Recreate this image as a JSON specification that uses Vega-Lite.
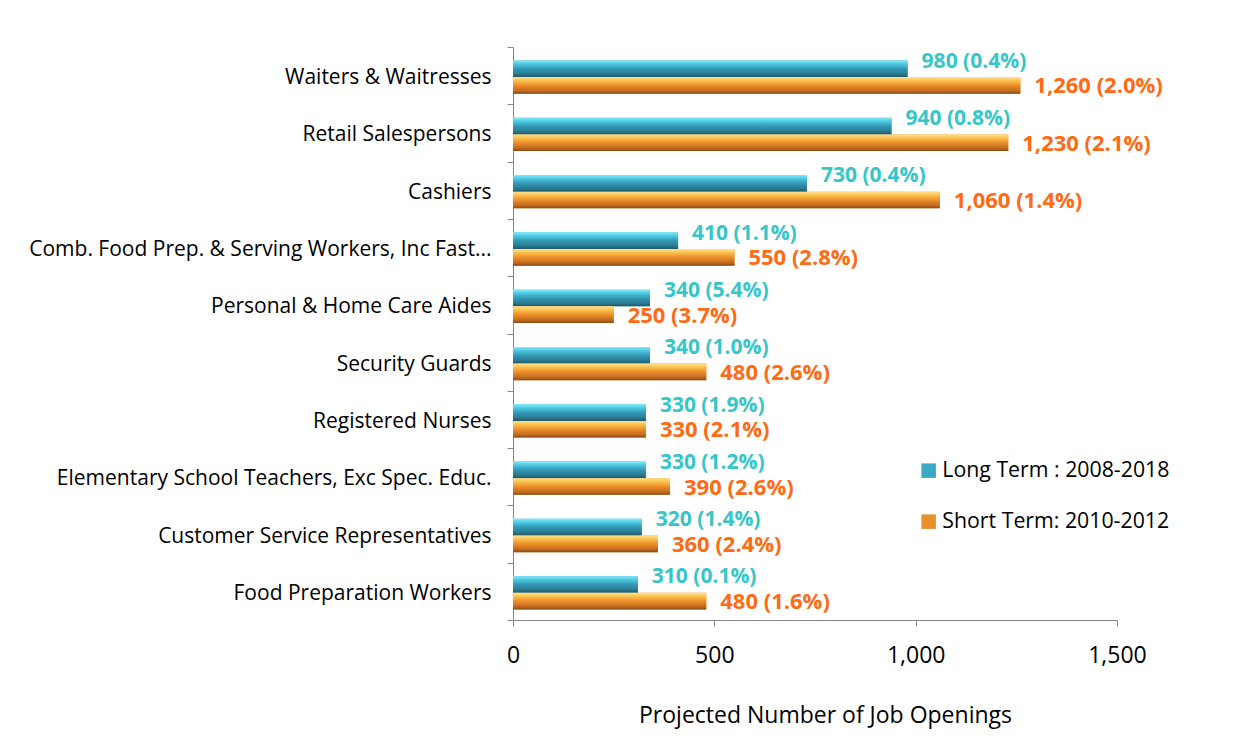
{
  "$schema": "https://vega.github.io/schema/vega-lite/v6.json",
  "width": 604,
  "height": 573,
  "autosize": {"type": "none"},
  "padding": {"left": 513, "top": 47, "right": 137, "bottom": 132},
  "background": "white",
  "config": {
    "font": "Open Sans",
    "view": {"stroke": null},
    "axis": {"domainColor": "#868686", "tickColor": "#868686", "labelColor": "#000000", "titleColor": "#000000", "grid": false, "labelFont": "Open Sans", "titleFont": "Open Sans", "titleFontWeight": "normal"}
  },
  "data": {
    "values": [
      {"category": "Waiters & Waitresses", "series": "Long Term : 2008-2018", "value": 980, "label": "980 (0.4%)"},
      {"category": "Waiters & Waitresses", "series": "Short Term: 2010-2012", "value": 1260, "label": "1,260 (2.0%)"},
      {"category": "Retail Salespersons", "series": "Long Term : 2008-2018", "value": 940, "label": "940 (0.8%)"},
      {"category": "Retail Salespersons", "series": "Short Term: 2010-2012", "value": 1230, "label": "1,230 (2.1%)"},
      {"category": "Cashiers", "series": "Long Term : 2008-2018", "value": 730, "label": "730  (0.4%)"},
      {"category": "Cashiers", "series": "Short Term: 2010-2012", "value": 1060, "label": "1,060 (1.4%)"},
      {"category": "Comb. Food Prep. & Serving Workers, Inc Fast...", "series": "Long Term : 2008-2018", "value": 410, "label": "410 (1.1%)"},
      {"category": "Comb. Food Prep. & Serving Workers, Inc Fast...", "series": "Short Term: 2010-2012", "value": 550, "label": "550 (2.8%)"},
      {"category": "Personal & Home Care Aides", "series": "Long Term : 2008-2018", "value": 340, "label": "340 (5.4%)"},
      {"category": "Personal & Home Care Aides", "series": "Short Term: 2010-2012", "value": 250, "label": "250 (3.7%)"},
      {"category": "Security Guards", "series": "Long Term : 2008-2018", "value": 340, "label": "340 (1.0%)"},
      {"category": "Security Guards", "series": "Short Term: 2010-2012", "value": 480, "label": "480 (2.6%)"},
      {"category": "Registered Nurses", "series": "Long Term : 2008-2018", "value": 330, "label": "330 (1.9%)"},
      {"category": "Registered Nurses", "series": "Short Term: 2010-2012", "value": 330, "label": "330 (2.1%)"},
      {"category": "Elementary School Teachers, Exc Spec. Educ.", "series": "Long Term : 2008-2018", "value": 330, "label": "330 (1.2%)"},
      {"category": "Elementary School Teachers, Exc Spec. Educ.", "series": "Short Term: 2010-2012", "value": 390, "label": "390 (2.6%)"},
      {"category": "Customer Service Representatives", "series": "Long Term : 2008-2018", "value": 320, "label": "320 (1.4%)"},
      {"category": "Customer Service Representatives", "series": "Short Term: 2010-2012", "value": 360, "label": "360 (2.4%)"},
      {"category": "Food Preparation Workers", "series": "Long Term : 2008-2018", "value": 310, "label": "310 (0.1%)"},
      {"category": "Food Preparation Workers", "series": "Short Term: 2010-2012", "value": 480, "label": "480 (1.6%)"}
    ]
  },
  "encoding": {
    "y": {
      "field": "category", "type": "nominal", "sort": null,
      "scale": {"paddingInner": 0, "paddingOuter": 0},
      "axis": {"title": null, "tickBand": "extent", "tickSize": 6, "labelPadding": 16, "labelFontSize": 21, "labelLimit": 600, "labelOffset": 2}
    },
    "yOffset": {
      "field": "series", "type": "nominal",
      "scale": {"paddingInner": 0, "paddingOuter": 0.72, "align": 0.56}
    },
    "x": {
      "field": "value", "type": "quantitative",
      "scale": {"domain": [0, 1500], "nice": false},
      "axis": {"values": [0, 500, 1000, 1500], "format": ",.0f", "labelFlush": false, "tickSize": 6, "labelPadding": 18, "labelFontSize": 23, "title": "Projected Number of Job Openings", "titleFontSize": 23, "titlePadding": 37, "titleX": 312}
    }
  },
  "layer": [
    {
      "mark": {"type": "bar"},
      "encoding": {
        "color": {
          "field": "series", "type": "nominal",
          "scale": {"range": ["#3BA8C4", "#E8902C"]},
          "legend": {"title": null, "orient": "none", "legendX": 405, "legendY": 413, "symbolType": "square", "symbolSize": 210, "symbolStrokeWidth": 0, "labelFontSize": 21.3, "labelFont": "Open Sans", "labelColor": "#000000", "rowPadding": 29, "labelOffset": 3, "labelLimit": 400}
        }
      }
    },
    {
      "transform": [{"filter": "datum.series === 'Long Term : 2008-2018'"}],
      "mark": {"type": "bar", "fill": {"gradient": "linear", "x1": 0, "y1": 0, "x2": 0, "y2": 1, "stops": [
        {"offset": 0, "color": "#86ECF8"},
        {"offset": 0.2, "color": "#4FCBE4"},
        {"offset": 0.5, "color": "#3399B5"},
        {"offset": 0.8, "color": "#2A7C92"},
        {"offset": 1, "color": "#1F5868"}
      ]}}
    },
    {
      "transform": [{"filter": "datum.series === 'Short Term: 2010-2012'"}],
      "mark": {"type": "bar", "fill": {"gradient": "linear", "x1": 0, "y1": 0, "x2": 0, "y2": 1, "stops": [
        {"offset": 0, "color": "#FFE391"},
        {"offset": 0.22, "color": "#FBC04C"},
        {"offset": 0.5, "color": "#EC8F2C"},
        {"offset": 0.82, "color": "#C46C1E"},
        {"offset": 1, "color": "#8A4A14"}
      ]}}
    },
    {
      "transform": [{"filter": "datum.series === 'Long Term : 2008-2018'"}],
      "mark": {"type": "text", "align": "left", "baseline": "middle", "dx": 14, "dy": -7, "fontSize": 21, "fontWeight": "bold", "color": "#36C6C8", "font": "Open Sans"},
      "encoding": {"text": {"field": "label"}}
    },
    {
      "transform": [{"filter": "datum.series === 'Short Term: 2010-2012'"}],
      "mark": {"type": "text", "align": "left", "baseline": "middle", "dx": 14, "dy": 1, "fontSize": 22, "fontWeight": "bold", "color": "#FF6A13", "font": "Open Sans"},
      "encoding": {"text": {"field": "label"}}
    }
  ]
}
